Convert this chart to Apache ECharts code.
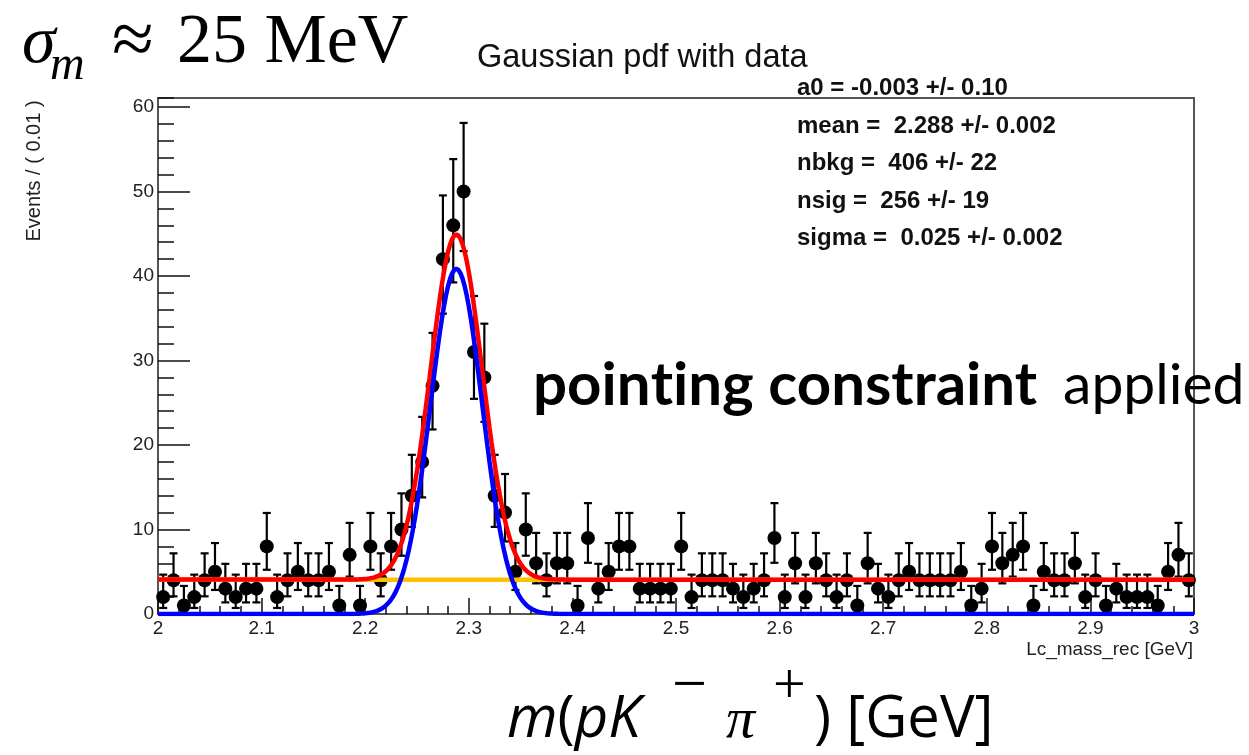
<!DOCTYPE html>
<html>
<head>
<meta charset="utf-8">
<script src="https://cdn.jsdelivr.net/npm/echarts@6/dist/echarts.min.js"></script>
<style>
  html, body { margin: 0; padding: 0; background: #fff; }
  #chart { width: 1249px; height: 755px; }
</style>
</head>
<body>
<div id="chart"></div>
<script>
// events per 0.01 GeV bin from 2.00 to 3.00, ten bins per row
const binStart = 2.0;
const binWidth = 0.01;
const counts = [
  2, 4, 1, 2, 4, 5, 3, 2, 3, 3,
  8, 2, 4, 5, 4, 4, 5, 1, 7, 1,
  8, 4, 8, 10, 14, 18, 27, 42, 46, 50,
  31, 28, 14, 12, 5, 10, 6, 4, 6, 6,
  1, 9, 3, 5, 8, 8, 3, 3, 3, 3,
  8, 2, 4, 4, 4, 3, 2, 3, 4, 9,
  2, 6, 2, 6, 4, 2, 4, 1, 6, 3,
  2, 4, 5, 4, 4, 4, 4, 5, 1, 3,
  8, 6, 7, 8, 1, 5, 4, 4, 6, 2,
  4, 1, 3, 2, 2, 2, 1, 5, 7, 4
];

// fit result, as printed in the stats box
const fitA0 = -0.003;
const fitMean = 2.288;
const fitNbkg = 406;
const fitNsig = 256;
const fitSigma = 0.025;
const statsLines = [
  "a0 = -0.003 +/- 0.10",
  "mean =  2.288 +/- 0.002",
  "nbkg =  406 +/- 22",
  "nsig =  256 +/- 19",
  "sigma =  0.025 +/- 0.002"
];

// asymmetric poisson errors (gehrels approximation, like RooFit draws them)
function errHi(n) {
  return n + Math.sqrt(n + 0.75) + 1;
}
function errLo(n) {
  if (n === 0) return 0;
  return n * Math.pow(1 - 1 / (9 * n) - 1 / (3 * Math.sqrt(n)), 3);
}

const points = counts.map((n, i) => [binStart + (i + 0.5) * binWidth, n, errLo(n), errHi(n)]);

// fit pdf components scaled to events per bin
function sigPdf(x) {
  const norm = fitNsig * binWidth / (fitSigma * Math.sqrt(2 * Math.PI));
  return norm * Math.exp(-0.5 * Math.pow((x - fitMean) / fitSigma, 2));
}
function bkgPdf(x) {
  const t = 2 * (x - 2) - 1;
  return fitNbkg * binWidth * (1 + fitA0 * t);
}
const curveX = [];
for (let i = 0; i <= 500; i++) curveX.push(2 + i / 500);
const bkgCurve = curveX.map((x) => [x, bkgPdf(x)]);
const sigCurve = curveX.map((x) => [x, sigPdf(x)]);
const totCurve = curveX.map((x) => [x, bkgPdf(x) + sigPdf(x)]);

const sans = '"Liberation Sans", Arial, sans-serif';
const tickStyle = { color: "#111", width: 1.5 };

const chart = echarts.init(document.getElementById("chart"));

const option = {
  animation: false,
  backgroundColor: "#fff",
  grid: {
    left: 158,
    top: 98,
    width: 1036,
    height: 516,
    show: true,
    borderColor: "#555",
    borderWidth: 2,
    outerBoundsMode: "none",
  },
  xAxis: [
    {
      type: "value",
      min: 2,
      max: 3,
      interval: 0.1,
      axisLine: { show: false },
      axisTick: { inside: true, length: 16, lineStyle: tickStyle },
      minorTick: { show: true, splitNumber: 5, length: 8, lineStyle: tickStyle },
      splitLine: { show: false },
      axisLabel: { color: "#222", fontSize: 19, fontFamily: sans, margin: 5 },
    },
  ],
  yAxis: [
    {
      type: "value",
      min: 0,
      max: 61.07,
      interval: 10,
      axisLine: { show: false },
      axisTick: { inside: true, length: 32, lineStyle: tickStyle },
      splitLine: { show: false },
      axisLabel: { color: "#222", fontSize: 19, fontFamily: sans, margin: 4, showMaxLabel: false },
    },
    {
      // minor ticks, moved over to the left edge
      type: "value",
      position: "right",
      offset: -1036,
      min: 0,
      max: 61.07,
      interval: 2,
      axisLine: { show: false },
      axisTick: { inside: false, length: 16, lineStyle: tickStyle },
      splitLine: { show: false },
      axisLabel: { show: false },
    },
  ],
  series: [
    {
      type: "line",
      data: bkgCurve,
      showSymbol: false,
      lineStyle: { color: "#ffc000", width: 4.5 },
    },
    {
      type: "line",
      data: totCurve,
      showSymbol: false,
      lineStyle: { color: "#ff0000", width: 4.5 },
    },
    {
      type: "line",
      data: sigCurve,
      showSymbol: false,
      lineStyle: { color: "#0000ff", width: 4.5 },
    },
    {
      type: "custom",
      data: points,
      renderItem: function (params, api) {
        const x = api.value(0);
        const top = api.coord([x, api.value(3)]);
        const bot = api.coord([x, api.value(2)]);
        const cap = 4;
        const st = { stroke: "#000", lineWidth: 2.2 };
        return {
          type: "group",
          children: [
            { type: "line", shape: { x1: top[0], y1: top[1], x2: bot[0], y2: bot[1] }, style: st },
            { type: "line", shape: { x1: top[0] - cap, y1: top[1], x2: top[0] + cap, y2: top[1] }, style: st },
            { type: "line", shape: { x1: bot[0] - cap, y1: bot[1], x2: bot[0] + cap, y2: bot[1] }, style: st },
          ],
        };
      },
    },
    {
      type: "scatter",
      data: points.map((p) => [p[0], p[1]]),
      symbol: "circle",
      symbolSize: 14,
      itemStyle: { color: "#000", opacity: 1 },
    },
  ],
  graphic: [
    { type: "text", x: 22, y: 44, style: { text: "σ", font: 'italic 68px "Liberation Serif"', fill: "#000", verticalAlign: "middle" } },
    { type: "text", x: 50, y: 66, style: { text: "m", font: 'italic 48px "Liberation Serif"', fill: "#000", verticalAlign: "middle" } },
    { type: "text", x: 112, y: 44, style: { text: "≈", font: '76px "Liberation Serif"', fill: "#000", verticalAlign: "middle" } },
    { type: "text", x: 177, y: 44, style: { text: "25 MeV", font: '70px "Liberation Serif"', fill: "#000", verticalAlign: "middle" } },
    { type: "text", x: 477, y: 58, style: { text: "Gaussian pdf with data", font: "32.5px " + sans, fill: "#111", verticalAlign: "middle" } },
    ...statsLines.map((s, i) => ({
      type: "text",
      x: 797,
      y: [88.5, 126.5, 163.5, 201, 238.5][i],
      style: { text: s, font: "bold 24px " + sans, fill: "#111", verticalAlign: "middle" },
    })),
    {
      type: "text", x: 34, y: 171, rotation: Math.PI / 2,
      style: { text: "Events / ( 0.01 )", font: "20px " + sans, fill: "#222", align: "center", verticalAlign: "middle" },
    },
    { type: "text", x: 1193, y: 650, style: { text: "Lc_mass_rec [GeV]", font: "19px " + sans, fill: "#222", align: "right", verticalAlign: "middle" } },
    {
      // split tokens so the font does not join "ti"
      type: "text", x: 533, y: 386,
      style: {
        text: "{b|poin}{b|t}{b|ing constraint}{r|applied}",
        verticalAlign: "middle",
        rich: {
          b: { fontFamily: "Lato", fontWeight: "bold", fontSize: 60, fill: "#000" },
          r: { fontFamily: "Lato", fontSize: 57, fill: "#000", padding: [0, 0, 0, 26] },
        },
      },
    },
    {
      type: "text", x: 507, y: 720,
      style: {
        text: "{i|m}{n|(}{i|pK}",
        verticalAlign: "middle",
        rich: {
          i: { fontFamily: "Open Sans", fontStyle: "italic", fontSize: 58, fill: "#000" },
          n: { fontFamily: "Open Sans", fontSize: 58, fill: "#000" },
        },
      },
    },
    { type: "text", x: 672, y: 688, style: { text: "−", font: '62px "Liberation Serif"', fill: "#000", verticalAlign: "middle" } },
    { type: "text", x: 726, y: 722, style: { text: "π", font: 'italic 58px "Liberation Serif"', fill: "#000", verticalAlign: "middle" } },
    { type: "text", x: 773, y: 688, style: { text: "+", font: '58px "Liberation Serif"', fill: "#000", verticalAlign: "middle" } },
    { type: "text", x: 814, y: 720, style: { text: ") [GeV]", font: '58px "Open Sans"', fill: "#000", verticalAlign: "middle" } },
  ],
};

chart.setOption(option);
</script>
</body>
</html>
